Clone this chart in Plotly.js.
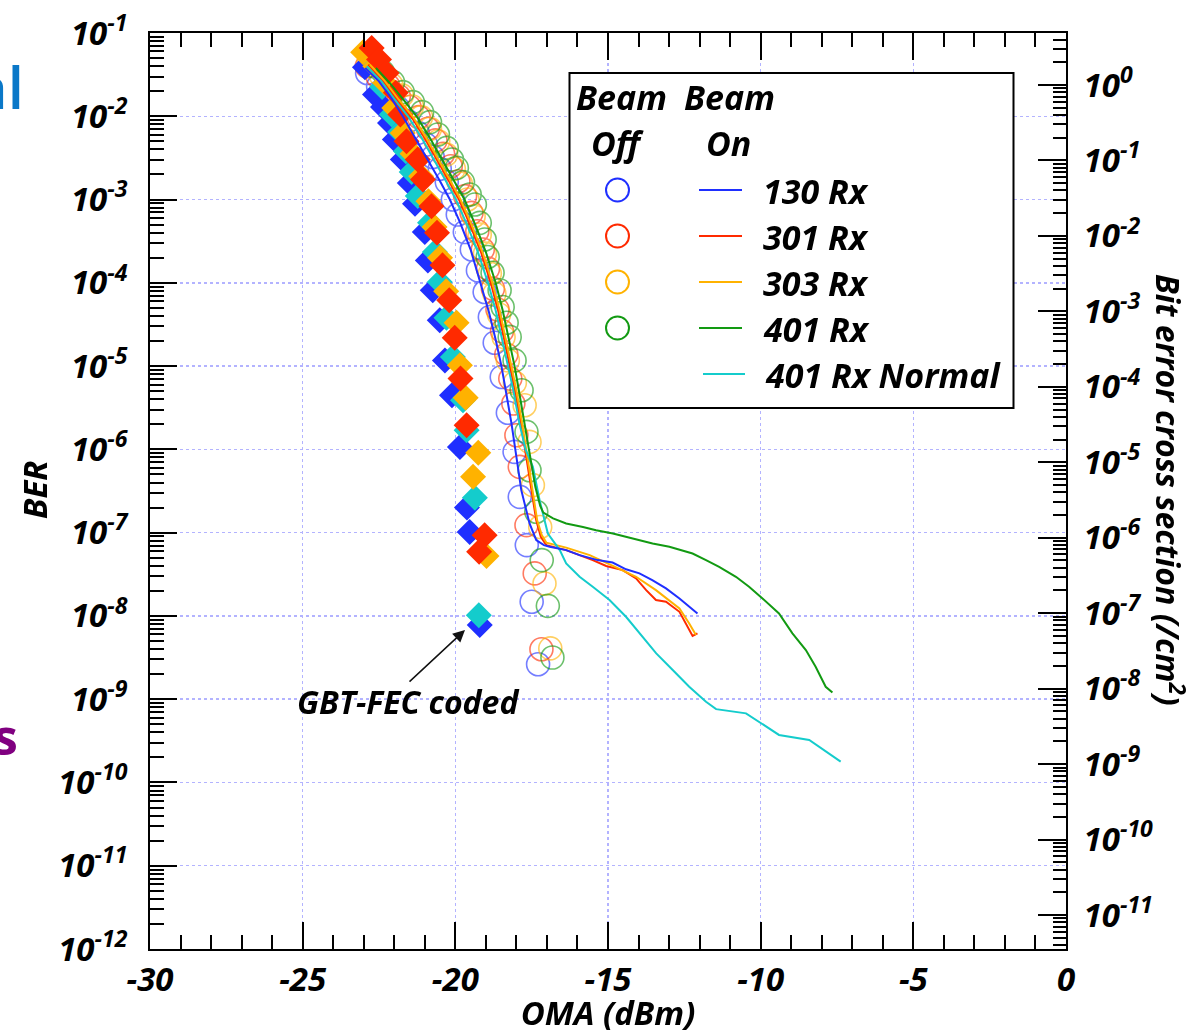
<!DOCTYPE html>
<html><head><meta charset="utf-8">
<script src="https://cdn.plot.ly/plotly-3.0.1.min.js"></script>
<style>html,body{margin:0;padding:0;background:#fff}</style>
</head><body><div id="chart" style="width:1196px;height:1035px"></div>
<script>
// ---------- Beam off, uncoded (open circles) : OMA (dBm) vs BER ----------
const off130_x = [-22.89,-22.53,-22.21,-21.88,-21.55,-21.23,-20.96,-20.74,-20.51,-20.28,-20.08,-19.92,-19.69,-19.46,-19.26,-19.04,-18.87,-18.71,-18.48,-18.28,-18.06,-17.89,-17.66,-17.50,-17.29];
const off130_ber = [3.31e-2,2.29e-2,1.70e-2,1.26e-2,8.71e-3,6.31e-3,4.57e-3,3.24e-3,2.34e-3,1.62e-3,1.00e-3,6.61e-4,4.07e-4,2.51e-4,1.41e-4,7.76e-5,3.89e-5,1.91e-5,7.41e-6,2.75e-6,9.33e-7,2.69e-7,7.08e-8,1.48e-8,2.63e-9];
const off301_x = [-22.90,-22.55,-22.20,-21.85,-21.50,-21.20,-20.90,-20.65,-20.40,-20.15,-19.90,-19.68,-19.47,-19.28,-19.10,-18.93,-18.77,-18.62,-18.47,-18.33,-18.20,-18.10,-18.00,-17.89,-17.67,-17.40,-17.18];
const off301_ber = [3.98e-2,3.02e-2,2.34e-2,1.74e-2,1.29e-2,9.77e-3,7.08e-3,5.13e-3,3.55e-3,2.51e-3,1.66e-3,1.10e-3,6.92e-4,4.17e-4,2.51e-4,1.48e-4,8.51e-5,4.79e-5,2.63e-5,1.38e-5,7.08e-6,3.55e-6,1.48e-6,6.17e-7,1.23e-7,3.24e-8,3.98e-9];
const off303_x = [-22.85,-22.45,-22.10,-21.75,-21.42,-21.12,-20.83,-20.56,-20.30,-20.05,-19.82,-19.60,-19.40,-19.20,-19.03,-18.87,-18.72,-18.57,-18.42,-18.28,-18.05,-17.73,-17.57,-17.46,-17.22,-17.08,-16.89];
const off303_ber = [4.27e-2,3.16e-2,2.40e-2,1.78e-2,1.32e-2,9.77e-3,7.08e-3,5.01e-3,3.47e-3,2.34e-3,1.55e-3,1.00e-3,6.31e-4,3.80e-4,2.24e-4,1.29e-4,7.41e-5,4.17e-5,2.24e-5,1.17e-5,6.31e-6,3.39e-6,1.23e-6,3.72e-7,1.17e-7,2.45e-8,4.07e-9];
const off401_x = [-22.65,-22.37,-22.04,-21.72,-21.39,-21.09,-20.83,-20.57,-20.28,-20.11,-19.95,-19.75,-19.53,-19.36,-19.20,-19.04,-18.94,-18.78,-18.55,-18.45,-18.32,-18.22,-18.06,-17.83,-17.67,-17.57,-17.35,-17.17,-16.97,-16.82];
const off401_ber = [3.98e-2,3.39e-2,2.57e-2,1.95e-2,1.48e-2,1.12e-2,8.51e-3,6.03e-3,4.17e-3,3.02e-3,2.40e-3,1.62e-3,1.15e-3,8.71e-4,5.25e-4,3.31e-4,2.04e-4,1.32e-4,8.13e-5,5.13e-5,3.31e-5,2.24e-5,1.17e-5,5.13e-6,1.62e-6,5.62e-7,1.78e-7,4.68e-8,1.32e-8,3.16e-9];

// ---------- GBT-FEC coded (filled diamonds) ----------
const fec130_x = [-22.96,-22.63,-22.37,-22.14,-21.98,-21.72,-21.49,-21.32,-21.00,-20.90,-20.74,-20.51,-20.34,-20.11,-19.85,-19.62,-19.53,-19.20];
const fec130_ber = [3.89e-2,1.82e-2,1.29e-2,8.32e-3,5.25e-3,3.02e-3,1.58e-3,8.91e-4,4.07e-4,1.86e-4,8.13e-5,3.55e-5,1.17e-5,4.47e-6,1.07e-6,2.00e-7,1.02e-7,7.76e-9];
const fec401_x = [-22.80,-22.40,-22.08,-21.81,-21.62,-21.43,-21.23,-20.83,-20.67,-20.51,-20.29,-20.08,-19.75,-19.63,-19.36,-19.23];
const fec401_ber = [5.01e-2,2.24e-2,1.05e-2,6.46e-3,3.80e-3,2.14e-3,1.10e-3,5.25e-4,2.34e-4,1.02e-4,3.80e-5,1.29e-5,3.89e-6,1.70e-6,2.63e-7,1.02e-8];
const fec303_x = [-23.02,-22.62,-22.30,-22.00,-21.72,-21.40,-21.12,-20.88,-20.68,-20.50,-20.30,-19.96,-19.85,-19.66,-19.25,-19.42,-18.98];
const fec303_ber = [5.89e-2,3.98e-2,2.51e-2,1.26e-2,6.31e-3,3.55e-3,1.91e-3,9.55e-4,4.68e-4,2.00e-4,7.94e-5,3.31e-5,1.02e-5,4.17e-6,9.12e-7,4.68e-7,5.25e-8];
const fec301_x = [-22.74,-22.50,-22.25,-21.95,-21.80,-21.60,-21.23,-21.06,-20.78,-20.60,-20.42,-20.20,-20.02,-19.83,-19.63,-19.04,-19.22];
const fec301_ber = [6.61e-2,4.79e-2,3.31e-2,1.91e-2,1.05e-2,5.01e-3,3.02e-3,1.74e-3,8.32e-4,3.98e-4,1.62e-4,6.17e-5,2.19e-5,7.08e-6,1.95e-6,9.33e-8,5.89e-8];

// ---------- Beam on (lines) ----------
const on130_x = [-22.95,-22.50,-22.10,-21.72,-21.30,-20.90,-20.50,-20.18,-19.85,-19.50,-19.17,-18.90,-18.68,-18.49,-18.35,-18.16,-18.00,-17.84,-17.57,-17.35,-17.10,-16.91,-16.37,-15.93,-15.34,-14.85,-14.41,-13.97,-13.55,-13.10,-12.66,-12.07];
const on130_ber = [3.80e-2,2.63e-2,1.66e-2,1.00e-2,5.37e-3,3.02e-3,1.66e-3,1.00e-3,5.37e-4,2.51e-4,1.00e-4,4.47e-5,2.09e-5,1.00e-5,5.13e-6,2.04e-6,8.13e-7,3.24e-7,1.29e-7,8.13e-8,7.08e-8,6.76e-8,6.17e-8,5.37e-8,4.68e-8,4.37e-8,3.63e-8,3.24e-8,2.69e-8,2.14e-8,1.62e-8,1.07e-8];
const on301_x = [-22.85,-22.35,-21.90,-21.45,-21.02,-20.62,-20.25,-19.88,-19.52,-19.16,-18.84,-18.60,-18.40,-18.20,-18.05,-17.85,-17.68,-17.52,-17.35,-17.20,-17.02,-16.37,-15.93,-15.50,-15.06,-14.52,-14.08,-13.75,-13.43,-13.10,-12.66,-12.44,-12.23,-12.07];
const on301_ber = [4.17e-2,2.63e-2,1.58e-2,1.00e-2,5.62e-3,3.16e-3,1.78e-3,1.00e-3,5.01e-4,2.34e-4,1.00e-4,4.68e-5,2.14e-5,1.00e-5,5.13e-6,2.04e-6,8.13e-7,3.24e-7,1.41e-7,8.91e-8,7.08e-8,6.17e-8,5.37e-8,4.68e-8,3.98e-8,3.55e-8,2.82e-8,2.04e-8,1.55e-8,1.48e-8,1.12e-8,8.13e-9,5.75e-9,6.17e-9];
const on303_x = [-22.80,-22.30,-21.85,-21.40,-20.97,-20.57,-20.20,-19.83,-19.47,-19.11,-18.79,-18.55,-18.35,-18.15,-18.00,-17.81,-17.64,-17.48,-17.32,-17.17,-17.02,-16.37,-15.60,-14.84,-14.08,-13.43,-12.66,-12.34,-12.12];
const on303_ber = [4.17e-2,2.63e-2,1.58e-2,1.00e-2,5.62e-3,3.16e-3,1.78e-3,1.00e-3,5.01e-4,2.34e-4,1.00e-4,4.68e-5,2.14e-5,1.00e-5,5.13e-6,2.04e-6,8.13e-7,3.24e-7,1.41e-7,9.33e-8,7.59e-8,6.61e-8,5.37e-8,3.98e-8,2.95e-8,2.04e-8,1.23e-8,8.13e-9,5.89e-9];
const on401_x = [-22.60,-22.15,-21.70,-21.27,-20.85,-20.45,-20.08,-19.70,-19.35,-19.00,-18.68,-18.45,-18.25,-18.06,-17.92,-17.73,-17.55,-17.38,-17.22,-17.12,-16.80,-16.37,-15.82,-15.39,-14.84,-14.19,-13.54,-12.99,-12.23,-11.79,-11.36,-10.81,-10.38,-9.94,-9.40,-8.96,-8.52,-8.20,-7.87,-7.65];
const on401_ber = [3.80e-2,2.51e-2,1.58e-2,1.00e-2,5.62e-3,3.16e-3,1.78e-3,1.00e-3,5.01e-4,2.34e-4,1.00e-4,4.68e-5,2.14e-5,1.00e-5,5.13e-6,2.04e-6,8.13e-7,3.55e-7,2.09e-7,1.74e-7,1.48e-7,1.29e-7,1.17e-7,1.07e-7,9.77e-8,8.51e-8,7.41e-8,6.76e-8,5.62e-8,4.68e-8,3.89e-8,2.95e-8,2.24e-8,1.62e-8,1.07e-8,6.17e-9,3.89e-9,2.45e-9,1.41e-9,1.20e-9];
const on401n_x = [-22.90,-22.42,-21.98,-21.55,-21.12,-20.72,-20.35,-19.98,-19.62,-19.26,-18.93,-18.68,-18.47,-18.27,-18.10,-17.90,-17.70,-17.46,-17.24,-16.97,-16.58,-16.37,-15.93,-15.50,-14.95,-14.41,-13.97,-13.42,-12.88,-12.34,-11.79,-11.46,-10.48,-10.05,-9.40,-8.41,-7.38];
const on401n_ber = [3.98e-2,2.63e-2,1.58e-2,1.00e-2,5.62e-3,3.16e-3,1.78e-3,1.00e-3,5.01e-4,2.34e-4,1.00e-4,4.68e-5,2.14e-5,1.00e-5,5.13e-6,2.04e-6,1.00e-6,6.17e-7,2.45e-7,9.77e-8,6.17e-8,4.27e-8,2.95e-8,2.24e-8,1.55e-8,9.77e-9,6.17e-9,3.55e-9,2.24e-9,1.41e-9,9.33e-10,7.59e-10,6.76e-10,5.37e-10,3.72e-10,3.24e-10,1.78e-10];

// ---------- Axis ticks and labels ----------
const xTickVals = [-30,-25,-20,-15,-10,-5,0];
const xTickText = ['-30','-25','-20','-15','-10','-5','0'];
const berTickVals = [1e-12,1e-11,1e-10,1e-9,1e-8,1e-7,1e-6,1e-5,1e-4,1e-3,1e-2,1e-1];
const berTickText = ['10<sup>-12</sup>','10<sup>-11</sup>','10<sup>-10</sup>','10<sup>-9</sup>','10<sup>-8</sup>','10<sup>-7</sup>','10<sup>-6</sup>','10<sup>-5</sup>','10<sup>-4</sup>','10<sup>-3</sup>','10<sup>-2</sup>','10<sup>-1</sup>'];
const xsTickVals = [1e-11,1e-10,1e-9,1e-8,1e-7,1e-6,1e-5,1e-4,1e-3,1e-2,1e-1,1];
const xsTickText = ['10<sup>-11</sup>','10<sup>-10</sup>','10<sup>-9</sup>','10<sup>-8</sup>','10<sup>-7</sup>','10<sup>-6</sup>','10<sup>-5</sup>','10<sup>-4</sup>','10<sup>-3</sup>','10<sup>-2</sup>','10<sup>-1</sup>','10<sup>0</sup>'];
const legendNames = ['130 Rx','301 Rx','303 Rx','401 Rx','401 Rx Normal'];

// ---------- styling ----------
const C_BLUE = '#1f2fff', C_RED = '#ff2a00', C_ORANGE = '#ffb200', C_GREEN = '#129a12', C_CYAN = '#14cccc';
const FONT = '"Open Sans", "Noto Sans", "DejaVu Sans", sans-serif';
const TF = (s) => ({family: FONT, size: s, color: '#000', style: 'italic', weight: 700});

function minorLog(lo, hi) {
  const v = [];
  for (let e = lo; e <= hi; e++) for (let m = 2; m <= 9; m++) v.push(m * Math.pow(10, e));
  return v;
}

const circ = (x, y, c) => ({type:'scatter', mode:'markers', x, y, opacity:0.62, hoverinfo:'skip',
  marker:{symbol:'circle-open', size:23, color:c, line:{width:1.6}}});
const diam = (x, y, c) => ({type:'scatter', mode:'markers', x, y, hoverinfo:'skip',
  marker:{symbol:'diamond', size:20, color:c, line:{width:0}}});
const ln = (x, y, c) => ({type:'scatter', mode:'lines', x, y, hoverinfo:'skip', line:{color:c, width:2}});

const data = [
  circ(off130_x, off130_ber, C_BLUE),
  circ(off301_x, off301_ber, C_RED),
  circ(off303_x, off303_ber, C_ORANGE),
  circ(off401_x, off401_ber, C_GREEN),
  diam(fec130_x, fec130_ber, C_BLUE),
  diam(fec401_x, fec401_ber, C_CYAN),
  diam(fec303_x, fec303_ber, C_ORANGE),
  diam(fec301_x, fec301_ber, C_RED),
  ln(on301_x, on301_ber, C_RED),
  ln(on303_x, on303_ber, C_ORANGE),
  ln(on401n_x, on401n_ber, C_CYAN),
  ln(on401_x, on401_ber, C_GREEN),
  ln(on130_x, on130_ber, C_BLUE),
  // empty trace that attaches the right-hand cross-section axis
  {type:'scatter', mode:'markers', x:[], y:[], xaxis:'x', yaxis:'y2', hoverinfo:'skip'}
];

// plot-area pixel helpers (for legend placement)
const PL = 150, PT = 33, PW = 916, PH = 916;
const px = (v) => (v - PL) / PW;
const py = (v) => (PT + PH - v) / PH;

const shapes = [
  {type:'rect', xref:'paper', yref:'paper', x0:px(569.5), x1:px(1013.5), y0:py(408), y1:py(73),
   line:{color:'#000', width:2}, fillcolor:'#fff', layer:'above'}
];
const annotations = [];
const rowY = [190, 236, 282, 328, 374];
const rowCol = [C_BLUE, C_RED, C_ORANGE, C_GREEN, C_CYAN];
const A = (o) => Object.assign({xref:'paper', yref:'paper', showarrow:false, xanchor:'center', yanchor:'middle'}, o);
rowY.forEach((yy, i) => {
  if (i < 4) shapes.push({type:'circle', xref:'paper', yref:'paper', x0:px(606), x1:px(629), y0:py(yy+11.5), y1:py(yy-11.5),
    line:{color:rowCol[i], width:2}, layer:'above'});
  const xa = i < 4 ? 699 : 703, xb = i < 4 ? 742 : 745;
  shapes.push({type:'line', xref:'paper', yref:'paper', x0:px(xa), x1:px(xb), y0:py(yy), y1:py(yy),
    line:{color:rowCol[i], width:2}, layer:'above'});
  annotations.push(A({x:px(i < 4 ? 761 : 763), y:py(yy+1), xanchor:'left', text:legendNames[i], font:TF(34)}));
});
annotations.push(
  A({x:px(574), y:py(97), xanchor:'left', text:'Beam', font:TF(34)}),
  A({x:px(682), y:py(97), xanchor:'left', text:'Beam', font:TF(34)}),
  A({x:px(589), y:py(143), xanchor:'left', text:'Off', font:TF(34)}),
  A({x:px(704), y:py(143), xanchor:'left', text:'On', font:TF(34)}),
  // GBT-FEC arrow and label
  {xref:'paper', yref:'paper', x:px(465), y:py(630), ax:-57, ay:53, text:'', showarrow:true,
   arrowhead:2, arrowsize:1.6, arrowwidth:1.5, arrowcolor:'#111'},
  A({x:px(408), y:py(701), text:'GBT-FEC coded', font:TF(32)}),
  // y-axis titles
  A({x:px(34), y:py(490), text:'BER', textangle:-90, font:TF(33)}),
  A({x:px(1170), y:py(490), text:'Bit error cross section (/cm<sup>2</sup>)', textangle:90, font:TF(32)}),
  // clipped slide text at the left edge
  A({x:px(26), y:py(87), xanchor:'right', text:'al', font:{family:FONT, size:58, color:'#0a78c8', weight:600}}),
  A({x:px(20), y:py(736), xanchor:'right', text:'s', font:{family:FONT, size:50, color:'#800080', weight:700}})
);

const axCommon = {ticks:'inside', tickwidth:2, tickcolor:'#000', showline:true, linewidth:2, linecolor:'#000', zeroline:false};

const layout = {
  width:1196, height:1035,
  margin:{l:PL, r:1196-PL-PW, t:PT, b:1035-PT-PH, pad:0},
  paper_bgcolor:'#fff', plot_bgcolor:'#fff',
  showlegend:false,
  font:{family:FONT, color:'#000'},
  xaxis: Object.assign({}, axCommon, {
    range:[-30,0], tickmode:'array', tickvals:xTickVals, ticktext:xTickText, ticklen:27, mirror:'ticks',
    showgrid:true, gridcolor:'#b3b3ff', griddash:'dot', gridwidth:1.5,
    minor:{tickmode:'linear', tick0:-30, dtick:1, ticks:'inside', ticklen:14, tickwidth:2, tickcolor:'#000', showgrid:false},
    tickfont:TF(33), ticklabelstandoff:0,
    title:{text:'OMA (dBm)', font:TF(33), standoff:16}
  }),
  yaxis: Object.assign({}, axCommon, {
    type:'log', range:[-12,-1], tickmode:'array', tickvals:berTickVals, ticktext:berTickText, ticklen:27,
    showgrid:true, gridcolor:'#b3b3ff', griddash:'dot', gridwidth:1.5,
    minor:{tickmode:'array', tickvals:minorLog(-12,-2), ticks:'inside', ticklen:14, tickwidth:2, tickcolor:'#000', showgrid:false},
    tickfont:TF(33), ticklabelstandoff:14
  }),
  yaxis2: Object.assign({}, axCommon, {
    type:'log', overlaying:'y', side:'right', anchor:'x', range:[-11.451,0.689], tickmode:'array',
    tickvals:xsTickVals, ticktext:xsTickText, ticklen:28, showgrid:false,
    minor:{tickmode:'array', tickvals:minorLog(-12,0), ticks:'inside', ticklen:13, tickwidth:2, tickcolor:'#000', showgrid:false},
    tickfont:TF(33), ticklabelstandoff:9
  }),
  shapes, annotations
};

Plotly.newPlot('chart', data, layout, {staticPlot:true, displayModeBar:false});
</script></body></html>
